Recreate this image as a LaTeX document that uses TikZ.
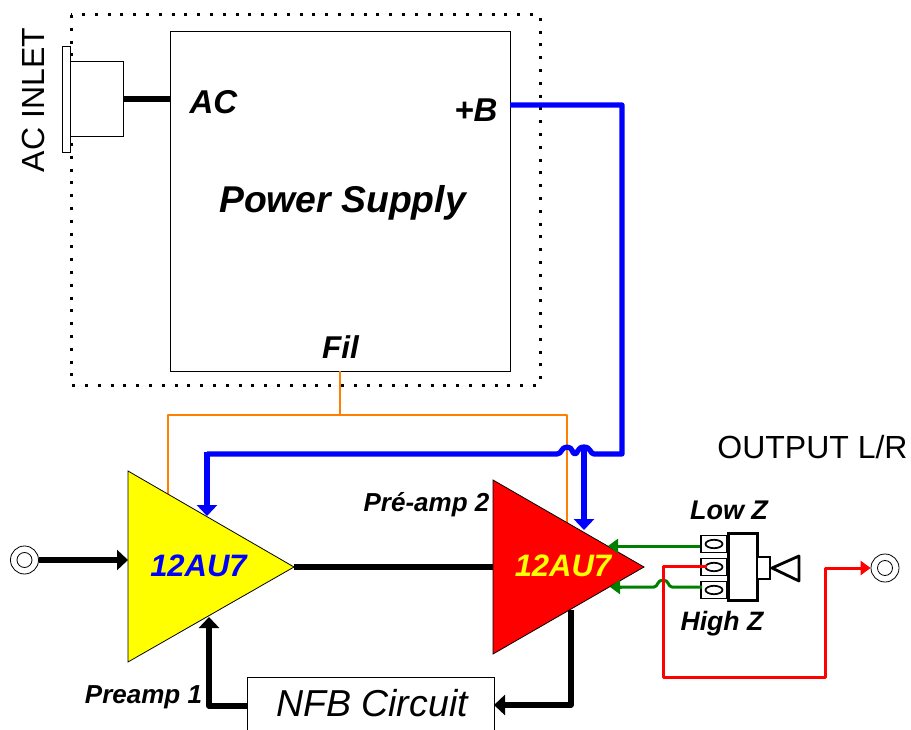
\documentclass[tikz,border=0pt]{standalone}
\usepackage{fontspec}
\setmainfont{Liberation Sans}
\usetikzlibrary{arrows.meta}
\definecolor{orangew}{RGB}{255,128,0}
\definecolor{greenw}{RGB}{0,128,0}
\definecolor{yellowf}{RGB}{255,255,0}
\definecolor{redf}{RGB}{255,0,0}
\definecolor{bluef}{RGB}{0,0,255}
\tikzset{
  box/.style={draw=black,fill=white,line width=0.9pt,inner sep=0pt,outer sep=0pt,anchor=north west},
  lbl/.style={font=\bfseries\itshape,inner sep=0pt,text=black},
  plain/.style={inner sep=0pt,text=black},
  thick wire/.style={draw=black,line width=5.2pt,line join=round},
  blue wire/.style={draw=bluef,line width=5.2pt,line join=round},
  orange wire/.style={draw=orangew,line width=2.7pt,line join=round},
  green wire/.style={draw=greenw,line width=3pt,line join=round},
  red wire/.style={draw=redf,line width=3pt,line join=round},
  bigtip/.style={-{Triangle[length=11pt,width=20pt]}},
  smalltip/.style={-{Triangle[length=10pt,width=14pt]}},
  jack/.style={circle,draw=black,line width=0.8pt,fill=white,minimum size=28pt,inner sep=0pt,path picture={\draw[line width=0.8pt] (path picture bounding box.center) circle (7.5pt);}},
  tab/.style={draw=black,line width=1.7pt,fill=white,minimum width=26pt,minimum height=17pt,inner sep=0pt,path picture={\draw[line width=1.7pt] (path picture bounding box.center) ellipse (8.5pt and 4.2pt);}},
}
\begin{document}
\begin{tikzpicture}[x=1pt,y=-1pt]
\useasboundingbox (0,0) rectangle (911,730);
\fill[white] (0,0) rectangle (911,730);
% dotted enclosure
\draw[line width=3pt,dash pattern=on 3pt off 9.8pt] (71,15) rectangle (540,385);
% power supply
\node[box,minimum width=340pt,minimum height=340pt] (ps) at (170,31) {};
\node[lbl,font=\bfseries\itshape\fontsize{33}{33}\selectfont] at (213.5,102.5) {AC};
\node[lbl,font=\bfseries\itshape\fontsize{33}{33}\selectfont] at (476,110.5) {+B};
\node[lbl,font=\bfseries\itshape\fontsize{37.3}{37.3}\selectfont] at (342.5,203) {Power Supply};
\node[lbl,font=\bfseries\itshape\fontsize{31.5}{31.5}\selectfont] at (340.5,347) {Fil};
% inlet
\node[box,minimum width=53pt,minimum height=75pt] (inbody) at (70.5,61) {};
\node[box,minimum width=8pt,minimum height=106pt] (flange) at (62.5,46) {};
\node[plain,rotate=90,font=\fontsize{32}{32}\selectfont] at (33,100) {AC INLET};
\coordinate (acin) at (170,99);
\coordinate (acout) at (123,99);
\draw[thick wire] (acout) -- (acin);
% triangles
\coordinate (a1) at (128,471); \coordinate (a2) at (128,662); \coordinate (a3) at (294,567);
\coordinate (b1) at (493,480); \coordinate (b2) at (493,654); \coordinate (b3) at (644,567);
% orange
\coordinate (fil) at (340,371); \coordinate (filj) at (340,415);
\coordinate (orl) at (168,497); \coordinate (orr) at (567,525);
\draw[orange wire] (fil) -- (filj);
\draw[orange wire] (orl) |- (filj) -| (orr);
% triangles fill
\draw[fill=yellowf,line width=0.8pt] (a1) -- (a3) -- (a2) -- cycle;
\draw[fill=redf,line width=0.8pt] (b1) -- (b3) -- (b2) -- cycle;
\node[lbl,text=bluef,font=\bfseries\itshape\fontsize{31}{31}\selectfont] at (198.5,566) {12AU7};
\node[lbl,text=yellowf,font=\bfseries\itshape\fontsize{31}{31}\selectfont] at (563,566) {12AU7};
\node[lbl,font=\bfseries\itshape\fontsize{26}{26}\selectfont] at (426.5,504.5) {Pré-amp 2};
\node[lbl,font=\bfseries\itshape\fontsize{26}{26}\selectfont] at (143.5,697.5) {Preamp 1};
% blue
\coordinate (bp) at (510,105);
\coordinate (bc) at (622,105);
\coordinate (bd) at (622,454);
\coordinate (bb) at (584,454);
\coordinate (ya) at (207,516);
\coordinate (ra) at (584,530);
\draw[blue wire] (bp) -- (bc) -- (bd) -- (594,454) .. controls (590,454) and (591,447) .. (584,447)
  .. controls (577,447) and (578,454) .. (575,454) .. controls (572,454) and (573,447) .. (567,447)
  .. controls (561,447) and (562,454) .. (557,454) -- (207,454);
\draw[blue wire,bigtip] (207,452) -- (ya);
\draw[blue wire,bigtip] (bb |- 0,449) -- (ra);
% signal
\draw[thick wire] (a3) -- (b1 |- a3);
\node[jack] (jin) at (24.5,560) {};
\coordinate (yin) at (128,560);
\draw[thick wire,bigtip] (jin) -- (yin);
% NFB
\node[box,minimum width=247pt,minimum height=70pt] (nfb) at (247,677) {};
\node[plain,font=\itshape\fontsize{37.5}{37.5}\selectfont] at (372,703.5) {NFB Circuit};
\coordinate (fbout) at (571,610);
\coordinate (fbin) at (494,705);
\coordinate (fby) at (209,617);
\coordinate (nfbl) at (247,706);
\draw[thick wire,bigtip] (fbout) |- (fbin);
\draw[thick wire,bigtip] (nfbl) -| (fby);
% switch
\node[tab] (t1) at (714,544) {};
\node[tab] (t2) at (714,567) {};
\node[tab] (t3) at (714,590) {};
\node[draw=black,line width=3pt,fill=white,minimum width=29pt,minimum height=67pt,inner sep=0pt,outer sep=0pt] (sw) at (742.5,567) {};
\node[draw=black,line width=2.6pt,fill=white,minimum width=13pt,minimum height=22pt,inner sep=0pt,outer sep=0pt,anchor=west] (stub) at (757,568) {};
\draw[line width=2.8pt,line join=round] (772,568) -- (799,556) -- (799,581) -- cycle;
\node[lbl,font=\bfseries\itshape\fontsize{27}{27}\selectfont] at (729,510) {Low Z};
\node[lbl,font=\bfseries\itshape\fontsize{26.6}{26.6}\selectfont] at (722,624) {High Z};
\node[plain,font=\fontsize{32}{32}\selectfont] at (812.5,447) {OUTPUT L/R};
% green
\coordinate (g1) at (608,546);
\coordinate (g2) at (610,587);
\draw[green wire,smalltip] (t1.west |- 0,546) -- (g1);
\draw[green wire] (702,587) -- (672,587) .. controls (668,587) and (669,580) .. (663,580)
  .. controls (657,580) and (658,587) .. (654,587) -- (620,587);
\draw[green wire,smalltip] (622,587) -- (g2);
% red
\node[jack] (jout) at (885,568) {};
\coordinate (r0) at (707,566); \coordinate (r1) at (663,566);
\coordinate (r2) at (663,677); \coordinate (r3) at (825,677);
\coordinate (r4) at (825,568);
\draw[red wire,smalltip] (r0) -- (r1) -- (r2) -- (r3) -- (r4) -- (jout.west);
\end{tikzpicture}
\end{document}
